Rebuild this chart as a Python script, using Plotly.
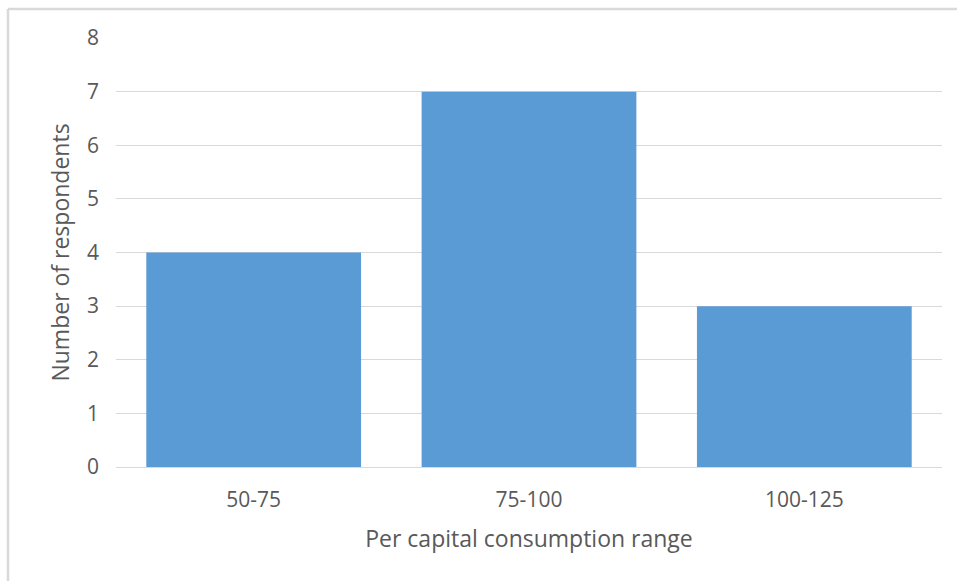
import plotly.graph_objects as go

categories = ["50-75", "75-100", "100-125"]
respondents = [4, 7, 3]
y_ticks = [0, 1, 2, 3, 4, 5, 6, 7, 8]

W, H = 957, 581
L, R, T, B = 116, 15, 38, 114
pw, ph = W - L - R, H - T - B

fig = go.Figure(go.Bar(x=categories, y=respondents, marker_color="#5B9BD5",
                       marker_line_width=0))

font = "Open Sans, Liberation Sans, sans-serif"
fig.update_layout(
    width=W, height=H,
    margin=dict(l=L, r=R, t=T, b=B, autoexpand=False),
    paper_bgcolor="white", plot_bgcolor="white",
    bargap=0.22, showlegend=False,
    font=dict(family=font, color="#595959", size=21),
)
fig.update_yaxes(range=[0, 8], tickvals=y_ticks, showgrid=True, gridcolor="#D9D9D9",
                 gridwidth=1, zeroline=False, showline=False, ticks="",
                 ticklabelstandoff=16,
                 tickfont=dict(size=21, color="#595959"),
                 title=dict(text="Number of respondents", font=dict(size=23, color="#595959"),
                            standoff=10))
fig.update_xaxes(showline=True, linecolor="#D9D9D9", linewidth=1, ticks="",
                 ticklabelstandoff=14,
                 tickfont=dict(size=21, color="#595959"),
                 title=dict(text="Per capital consumption range",
                            font=dict(size=23, color="#595959"), standoff=18))

# outer chart border (left and top edges visible)
bx = (8 - L) / pw
by = 1 + (T - 9) / ph
fig.add_shape(type="line", xref="paper", yref="paper", x0=bx, y0=by, x1=(W + 5 - L) / pw, y1=by,
              line=dict(color="#D9D9D9", width=2.5))
fig.add_shape(type="line", xref="paper", yref="paper", x0=bx, y0=by, x1=bx, y1=-(B + 5) / ph,
              line=dict(color="#D9D9D9", width=2.5))

fig.write_html("out.html")
